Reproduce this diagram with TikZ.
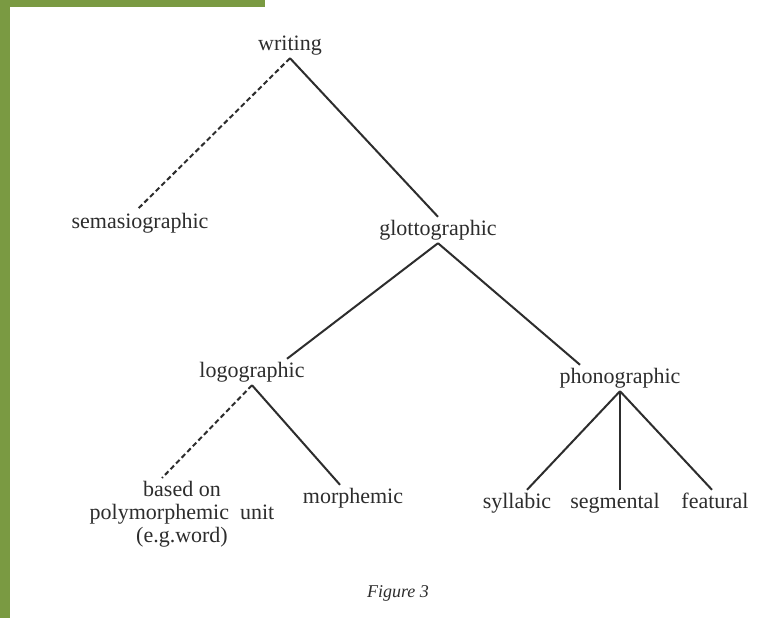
\documentclass[tikz,border=0pt]{standalone}
\usepackage{fontspec}
\setmainfont{Liberation Serif}
\usepackage{xcolor}
\definecolor{slidegreen}{RGB}{122,154,66}
\definecolor{inkgray}{RGB}{45,45,45}
\tikzset{
	term/.style={
			font=\fontsize{22}{23}\selectfont,
			text=inkgray,
			inner xsep=2pt, inner ysep=3pt,
			text height=15pt, text depth=5pt
		},
	branch/.style={line width=2pt, draw=inkgray},
	guessed/.style={branch, dash pattern=on 5pt off 3pt}
}

\begin{document}
\begin{tikzpicture}[x=1pt,y=-1pt]
			\useasboundingbox (0,0) rectangle (770,618);
			\fill[white] (0,0) rectangle (770,618);
			\fill[slidegreen] (0,0) rectangle (10,618);
			\fill[slidegreen] (0,0) rectangle (265,7);
			\node[term] (writing) at (290,45) {writing};
			\node[term] (semasio) at (140,223) {semasiographic};
			\node[term] (glotto) at (438,230) {glottographic};
			\node[term] (logo) at (252,372) {logographic};
			\node[term] (phono) at (620,378) {phonographic};
			\node[term, text height=, text depth=, align=center, anchor=north, inner ysep=3pt] (based) at (182,478) {based on\\polymorphemic\ \ unit\\(e.g.word)};
			\node[term] (morph) at (353,498) {morphemic};
			\node[term] (syll) at (517,503) {syllabic};
			\node[term] (segm) at (615,503) {segmental};
			\node[term] (feat) at (715,503) {featural};
			\node[font=\fontsize{18}{19}\selectfont\itshape, text=inkgray] (caption) at (398,593) {Figure 3};
			\draw[guessed] (writing.south) -- ([xshift=-3pt]semasio.north);
			\draw[branch] (writing.south) -- (glotto.north);
			\draw[branch] (glotto.south) -- ([xshift=35pt]logo.north);
			\draw[branch] (glotto.south) -- ([xshift=-40pt]phono.north);
			\draw[guessed] (logo.south) -- ([xshift=-20pt]based.north);
			\draw[branch] (logo.south) -- ([xshift=-13pt]morph.north);
			\draw[branch] (phono.south) -- ([xshift=10pt]syll.north);
			\draw[branch] (phono.south) -- (phono.south |- segm.north);
			\draw[branch] (phono.south) -- ([xshift=-3pt]feat.north);
		\end{tikzpicture}
\end{document}
